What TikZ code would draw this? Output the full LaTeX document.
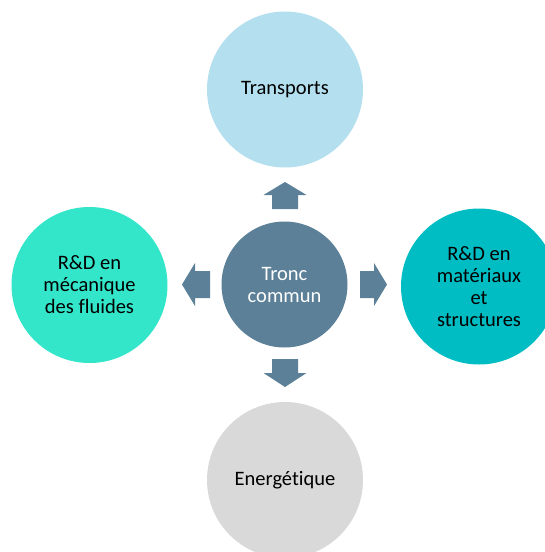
\documentclass[tikz,border=0pt]{standalone}
\usepackage{fontspec}
\setmainfont[Ligatures={NoCommon}]{Carlito}
\definecolor{cslate}{HTML}{5B8097}
\definecolor{ctop}{HTML}{B4DFEE}
\definecolor{cright}{HTML}{00BDC4}
\definecolor{cleft}{HTML}{33E5C9}
\definecolor{cbot}{HTML}{D9D9D9}
\tikzset{
  bubble/.style={circle, inner sep=0pt, minimum size=156pt, align=center,
    font=\fontsize{20.5}{22}\selectfont, text=black},
  hub/.style={circle, inner sep=0pt, minimum size=126pt, align=center, fill=cslate,
    font=\fontsize{20.5}{22}\selectfont, text=white},
  blockarrow/.style={fill=cslate, draw=none}
}
\begin{document}
\begin{tikzpicture}[x=1pt,y=-1pt]
\useasboundingbox (0,0) rectangle (545,552);
\clip (0,0) rectangle (545,552);
\node[hub] (c) at (284.5,284.5) {Tronc\\commun};
\node[bubble, fill=ctop] (t) at (285,89.5) {Transports};
\node[bubble, fill=cbot] (b) at (285,480) {Energétique};
\node[bubble, fill=cleft] (l) at (89.5,285) {R\&D en\\mécanique\\des fluides};
\node[bubble, fill=cright] (r) at (479,286.5) {R\&D en\\matériaux\\et\\structures};
% up
\draw[blockarrow] (272,209) -- (272,195) -- (263.5,195) -- (285,182) -- (306.5,195) -- (298,195) -- (298,209) -- cycle;
% down
\draw[blockarrow] (272,359) -- (298,359) -- (298,373) -- (306.5,373) -- (285,387) -- (263.5,373) -- (272,373) -- cycle;
% left
\draw[blockarrow] (210,271) -- (195,271) -- (195,263) -- (182,284.5) -- (195,306) -- (195,298) -- (210,298) -- cycle;
% right
\draw[blockarrow] (360,271) -- (374,271) -- (374,263) -- (387,284.5) -- (374,306) -- (374,298) -- (360,298) -- cycle;
\end{tikzpicture}
\end{document}
